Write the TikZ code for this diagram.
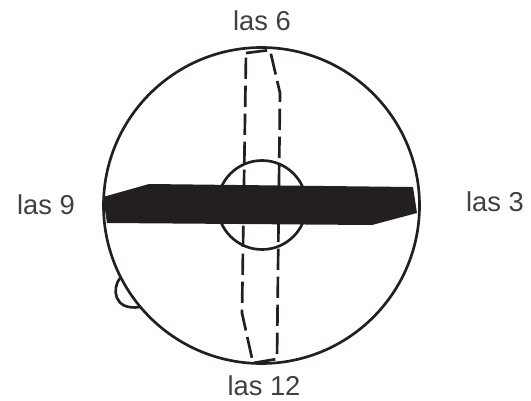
\documentclass[tikz,border=0pt]{standalone}
\usepackage{fontspec}
\setmainfont{Liberation Sans}
\usetikzlibrary{calc,positioning}
\definecolor{DialInk}{RGB}{35,31,32}
\definecolor{DialText}{RGB}{65,64,66}
\tikzset{
  dialline/.style={draw=DialInk,line width=2pt},
  hourlabel/.style={text=DialText,font=\fontsize{20.5}{23}\selectfont,inner sep=0pt}
}

\begin{document}
\begin{tikzpicture}[x=0.75pt,y=-0.75pt]
  \useasboundingbox (0,0) rectangle (531,400);
  % small bump on the rim
  \draw[dialline] (120,278) .. controls (112,288) and (113,311) .. (140,307);
  \draw[dialline] (261.5,205.5) circle (158);
  \draw[dialline] (262,205) circle (44.5);
  % dashed bar
  \draw[dialline,dash pattern=on 16pt off 5pt] (246,53) -- (270,50) -- (280,93) -- (277,359) -- (253,363) -- (242,313) -- cycle;
  % solid bar
  \fill[DialInk] (103,197) -- (149,184) -- (413,187) -- (417,213) -- (372,225) -- (107,223) -- cycle;
  \foreach \name/\x/\y/\hour in {six/262/21/6,three/495/202/3,nine/46/205/9,twelve/264/386/12} {
    \node[hourlabel] (las\name) at (\x,\y) {las \hour};
  }
\end{tikzpicture}
\end{document}
